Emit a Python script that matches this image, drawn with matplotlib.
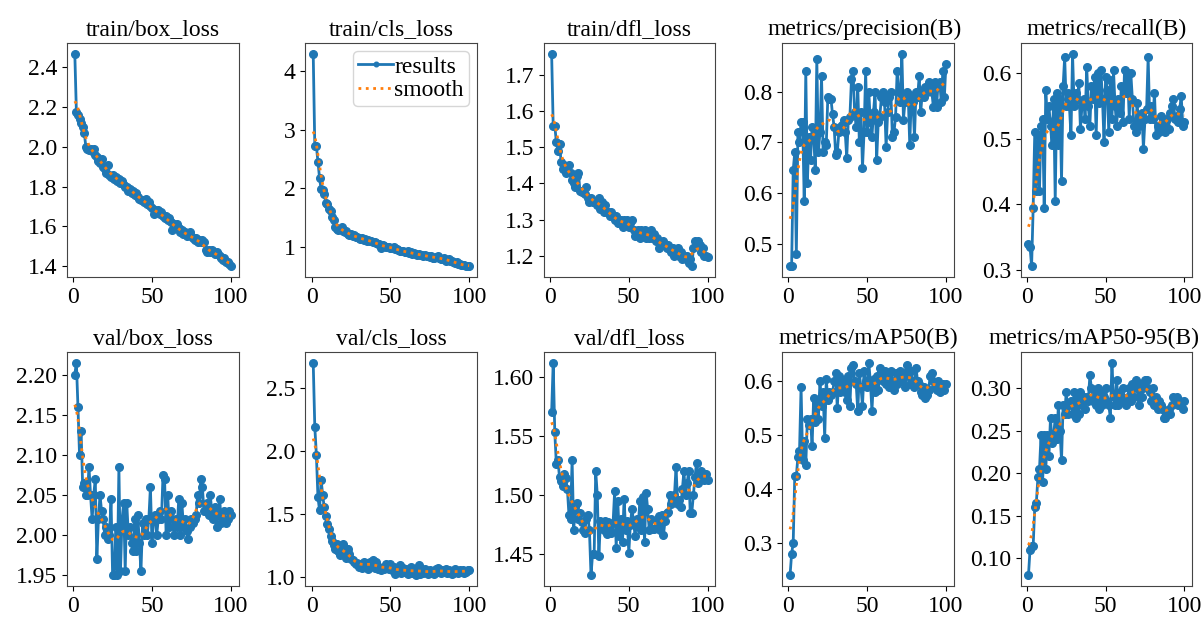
import numpy as np
import matplotlib
matplotlib.use("Agg")
import matplotlib.pyplot as plt
from matplotlib.ticker import MultipleLocator

plt.rcParams['font.family'] = ['Liberation Serif', 'DejaVu Serif']
plt.rcParams['font.size'] = 17

epochs = list(range(1, 101))

titles = ["train/box_loss", "train/cls_loss", "train/dfl_loss", "metrics/precision(B)", "metrics/recall(B)",
          "val/box_loss", "val/cls_loss", "val/dfl_loss", "metrics/mAP50(B)", "metrics/mAP50-95(B)"]

train_box_loss = [2.465, 2.175, 2.16, 2.14, 2.12, 2.10, 2.07, 2.00, 1.99, 1.985,
                  1.99, 1.98, 1.99, 1.96, 1.95, 1.93, 1.92, 1.94, 1.90, 1.89,
                  1.87, 1.91, 1.86, 1.85, 1.86, 1.84, 1.85, 1.83, 1.84, 1.82,
                  1.83, 1.81, 1.80, 1.80, 1.78, 1.79, 1.77, 1.78, 1.76, 1.77,
                  1.75, 1.74, 1.73, 1.73, 1.72, 1.74, 1.71, 1.72, 1.70, 1.69,
                  1.66, 1.68, 1.67, 1.68, 1.66, 1.67, 1.65, 1.64, 1.65, 1.63,
                  1.64, 1.62, 1.58, 1.61, 1.60, 1.61, 1.59, 1.57, 1.58, 1.56,
                  1.57, 1.55, 1.56, 1.57, 1.55, 1.54, 1.53, 1.54, 1.52, 1.53,
                  1.52, 1.53, 1.52, 1.48, 1.47, 1.48, 1.47, 1.48, 1.47, 1.46,
                  1.47, 1.46, 1.45, 1.44, 1.43, 1.44, 1.42, 1.42, 1.41, 1.40]

train_cls_loss = [4.30, 2.72, 2.72, 2.45, 2.18, 1.98, 1.97, 1.90, 1.75, 1.72,
                  1.65, 1.60, 1.50, 1.45, 1.33, 1.30, 1.28, 1.30, 1.33, 1.27,
                  1.25, 1.26, 1.22, 1.20, 1.21, 1.18, 1.19, 1.17, 1.16, 1.15,
                  1.13, 1.14, 1.12, 1.13, 1.10, 1.11, 1.09, 1.10, 1.08, 1.07,
                  1.06, 1.05, 1.04, 0.97, 1.03, 1.01, 1.00, 0.99, 1.00, 0.98,
                  0.97, 0.99, 0.95, 0.96, 0.94, 0.93, 0.92, 0.93, 0.91, 0.90,
                  0.92, 0.89, 0.90, 0.88, 0.89, 0.87, 0.86, 0.88, 0.85, 0.86,
                  0.84, 0.85, 0.83, 0.84, 0.82, 0.83, 0.81, 0.80, 0.82, 0.84,
                  0.80, 0.79, 0.78, 0.80, 0.76, 0.77, 0.78, 0.75, 0.76, 0.74,
                  0.72, 0.73, 0.70, 0.71, 0.69, 0.68, 0.68, 0.67, 0.67, 0.66]

train_dfl_loss = [1.76, 1.56, 1.56, 1.515, 1.49, 1.51, 1.46, 1.44, 1.45, 1.43,
                  1.44, 1.45, 1.43, 1.41, 1.40, 1.39, 1.42, 1.43, 1.38, 1.375,
                  1.38, 1.37, 1.39, 1.36, 1.35, 1.36, 1.35, 1.35, 1.35, 1.34,
                  1.36, 1.33, 1.35, 1.32, 1.34, 1.32, 1.32, 1.31, 1.32, 1.31,
                  1.30, 1.31, 1.29, 1.29, 1.30, 1.28, 1.30, 1.29, 1.30, 1.28,
                  1.29, 1.30, 1.27, 1.255, 1.26, 1.27, 1.25, 1.27, 1.26, 1.27,
                  1.25, 1.26, 1.25, 1.27, 1.25, 1.26, 1.24, 1.25, 1.22, 1.23,
                  1.23, 1.24, 1.23, 1.22, 1.23, 1.22, 1.21, 1.22, 1.20, 1.21,
                  1.22, 1.20, 1.21, 1.19, 1.20, 1.19, 1.20, 1.18, 1.19, 1.17,
                  1.22, 1.24, 1.23, 1.24, 1.23, 1.21, 1.22, 1.20, 1.20, 1.195]

precision = [0.455, 0.455, 0.645, 0.680, 0.480, 0.720, 0.700, 0.740, 0.740, 0.585,
             0.840, 0.620, 0.710, 0.665, 0.730, 0.715, 0.645, 0.865, 0.680, 0.720,
             0.830, 0.680, 0.700, 0.695, 0.790, 0.785, 0.785, 0.755, 0.730, 0.675,
             0.680, 0.720, 0.730, 0.735, 0.745, 0.720, 0.670, 0.745, 0.750, 0.825,
             0.840, 0.760, 0.730, 0.810, 0.700, 0.760, 0.650, 0.720, 0.840, 0.720,
             0.800, 0.740, 0.710, 0.760, 0.800, 0.665, 0.740, 0.750, 0.790, 0.800,
             0.780, 0.690, 0.760, 0.790, 0.800, 0.710, 0.720, 0.750, 0.840, 0.800,
             0.780, 0.875, 0.745, 0.780, 0.800, 0.795, 0.695, 0.790, 0.780, 0.710,
             0.800, 0.790, 0.830, 0.760, 0.800, 0.790, 0.810, 0.800, 0.820, 0.810,
             0.800, 0.770, 0.820, 0.770, 0.815, 0.820, 0.780, 0.840, 0.790, 0.855]

recall = [0.340, 0.335, 0.305, 0.395, 0.510, 0.420, 0.505, 0.420, 0.520, 0.530,
          0.395, 0.575, 0.530, 0.550, 0.520, 0.490, 0.560, 0.405, 0.570, 0.490,
          0.560, 0.435, 0.580, 0.625, 0.550, 0.570, 0.550, 0.505, 0.630, 0.550,
          0.570, 0.560, 0.585, 0.515, 0.550, 0.560, 0.530, 0.610, 0.550, 0.520,
          0.580, 0.560, 0.595, 0.505, 0.600, 0.555, 0.605, 0.560, 0.495, 0.595,
          0.575, 0.510, 0.590, 0.530, 0.605, 0.550, 0.520, 0.560, 0.540, 0.580,
          0.525, 0.605, 0.570, 0.600, 0.530, 0.600, 0.560, 0.520, 0.510, 0.555,
          0.520, 0.530, 0.540, 0.485, 0.530, 0.545, 0.625, 0.530, 0.550, 0.530,
          0.570, 0.505, 0.520, 0.510, 0.535, 0.520, 0.525, 0.510, 0.530, 0.515,
          0.540, 0.550, 0.560, 0.530, 0.535, 0.525, 0.545, 0.565, 0.520, 0.525]

val_box_loss = [2.200, 2.215, 2.160, 2.100, 2.130, 2.060, 2.065, 2.050, 2.050, 2.085,
                2.050, 2.020, 2.050, 2.070, 1.970, 2.020, 2.050, 2.030, 2.020, 2.000,
                2.010, 1.995, 2.000, 2.045, 1.950, 1.950, 2.010, 1.950, 2.085, 1.955,
                2.020, 2.040, 1.955, 2.040, 2.000, 2.010, 1.990, 1.980, 2.020, 1.980,
                2.025, 1.990, 1.955, 2.015, 2.000, 2.020, 2.000, 2.020, 2.060, 1.990,
                2.020, 2.025, 2.000, 2.020, 2.030, 2.020, 2.075, 2.070, 2.000, 2.050,
                2.010, 2.030, 2.020, 2.000, 2.020, 2.010, 2.045, 2.000, 2.040, 2.010,
                2.020, 2.005, 1.995, 2.010, 2.020, 2.015, 2.020, 2.025, 2.050, 2.040,
                2.070, 2.060, 2.030, 2.030, 2.040, 2.025, 2.050, 2.030, 2.020, 2.035,
                2.010, 2.025, 2.045, 2.015, 2.020, 2.030, 2.015, 2.020, 2.030, 2.025]

val_cls_loss = [2.70, 2.19, 1.97, 1.63, 1.53, 1.77, 1.65, 1.55, 1.48, 1.42,
                1.38, 1.32, 1.28, 1.25, 1.22, 1.26, 1.20, 1.17, 1.24, 1.26,
                1.19, 1.15, 1.22, 1.18, 1.14, 1.13, 1.12, 1.10, 1.11, 1.08,
                1.10, 1.07, 1.12, 1.09, 1.11, 1.06, 1.12, 1.10, 1.13, 1.07,
                1.12, 1.06, 1.08, 1.05, 1.07, 1.06, 1.10, 1.08, 1.06, 1.10,
                1.05, 1.08, 1.02, 1.06, 1.04, 1.09, 1.03, 1.07, 1.04, 1.06,
                1.02, 1.05, 1.08, 1.03, 1.06, 1.01, 1.04, 1.09, 1.02, 1.05,
                1.03, 1.06, 1.04, 1.02, 1.05, 1.03, 1.04, 1.02, 1.06, 1.07,
                1.04, 1.03, 1.05, 1.04, 1.06, 1.03, 1.05, 1.04, 1.02, 1.03,
                1.06, 1.04, 1.03, 1.05, 1.04, 1.05, 1.03, 1.04, 1.05, 1.05]

val_dfl_loss = [1.570, 1.612, 1.553, 1.526, 1.530, 1.515, 1.512, 1.508, 1.518, 1.514,
                1.505, 1.483, 1.480, 1.530, 1.470, 1.490, 1.493, 1.480, 1.485, 1.477,
                1.470, 1.468, 1.480, 1.483, 1.470, 1.432, 1.450, 1.450, 1.520, 1.500,
                1.448, 1.478, 1.475, 1.470, 1.478, 1.467, 1.477, 1.470, 1.468, 1.476,
                1.503, 1.455, 1.495, 1.465, 1.480, 1.460, 1.497, 1.470, 1.478, 1.451,
                1.475, 1.488, 1.478, 1.465, 1.480, 1.474, 1.495, 1.470, 1.498, 1.460,
                1.502, 1.488, 1.470, 1.480, 1.471, 1.471, 1.472, 1.478, 1.482, 1.470,
                1.483, 1.466, 1.478, 1.485, 1.486, 1.500, 1.492, 1.498, 1.500, 1.524,
                1.492, 1.496, 1.490, 1.505, 1.520, 1.500, 1.510, 1.520, 1.485, 1.485,
                1.500, 1.515, 1.527, 1.510, 1.518, 1.520, 1.518, 1.513, 1.518, 1.513]

map50 = [0.240, 0.280, 0.300, 0.425, 0.425, 0.460, 0.470, 0.590, 0.455, 0.490,
         0.445, 0.530, 0.520, 0.530, 0.480, 0.570, 0.525, 0.560, 0.530, 0.600,
         0.555, 0.580, 0.495, 0.605, 0.565, 0.580, 0.575, 0.580, 0.600, 0.615,
         0.550, 0.610, 0.580, 0.590, 0.600, 0.580, 0.565, 0.610, 0.555, 0.625,
         0.630, 0.600, 0.595, 0.545, 0.615, 0.590, 0.555, 0.620, 0.600, 0.590,
         0.635, 0.600, 0.545, 0.605, 0.580, 0.610, 0.585, 0.625, 0.620, 0.600,
         0.620, 0.595, 0.615, 0.590, 0.620, 0.600, 0.585, 0.615, 0.595, 0.610,
         0.620, 0.600, 0.615, 0.590, 0.630, 0.610, 0.595, 0.620, 0.600, 0.590,
         0.625, 0.600, 0.595, 0.580, 0.575, 0.590, 0.570, 0.575, 0.585, 0.610,
         0.615, 0.600, 0.590, 0.585, 0.600, 0.580, 0.590, 0.595, 0.585, 0.595]

map50_95 = [0.080, 0.110, 0.115, 0.115, 0.160, 0.165, 0.195, 0.205, 0.245, 0.190,
            0.245, 0.205, 0.245, 0.220, 0.265, 0.235, 0.245, 0.265, 0.240, 0.280,
            0.250, 0.215, 0.280, 0.270, 0.295, 0.270, 0.280, 0.285, 0.270, 0.295,
            0.265, 0.290, 0.270, 0.295, 0.280, 0.290, 0.275, 0.290, 0.285, 0.315,
            0.300, 0.285, 0.295, 0.280, 0.300, 0.275, 0.295, 0.280, 0.290, 0.300,
            0.285, 0.280, 0.265, 0.330, 0.290, 0.280, 0.310, 0.280, 0.295, 0.285,
            0.300, 0.285, 0.280, 0.290, 0.300, 0.285, 0.305, 0.290, 0.310, 0.300,
            0.280, 0.305, 0.290, 0.300, 0.310, 0.310, 0.300, 0.295, 0.285, 0.300,
            0.280, 0.290, 0.275, 0.285, 0.280, 0.275, 0.265, 0.265, 0.270, 0.275,
            0.270, 0.280, 0.290, 0.285, 0.290, 0.280, 0.285, 0.280, 0.275, 0.285]

series = [train_box_loss, train_cls_loss, train_dfl_loss, precision, recall,
          val_box_loss, val_cls_loss, val_dfl_loss, map50, map50_95]

y_steps = [0.2, 1, 0.1, 0.1, 0.1, 0.05, 0.5, 0.05, 0.1, 0.05]
title_x = [0.5, 0.5, 0.5, 0.48, 0.5, 0.5, 0.5, 0.5, 0.5, 0.43]


def gaussian_smooth(y, sigma=3.0, truncate=4.0):
    y = np.asarray(y, dtype=float)
    r = int(truncate * sigma + 0.5)
    k = np.arange(-r, r + 1)
    w = np.exp(-0.5 * (k / sigma) ** 2)
    w /= w.sum()
    yp = np.pad(y, r, mode='symmetric')
    return np.convolve(yp, w, mode='valid')


fig, axes = plt.subplots(2, 5, figsize=(12.03, 6.19), dpi=100)
fig.subplots_adjust(left=0.0557, right=0.991, top=0.9305, bottom=0.0533, wspace=0.39, hspace=0.32)

for ax, title, y, st, tx in zip(axes.ravel(), titles, series, y_steps, title_x):
    ax.plot(epochs, y, marker='o', markersize=5.5, linewidth=2, color='#1f77b4', label='results')
    ax.plot(epochs, gaussian_smooth(y), ':', linewidth=2, color='#ff7f0e', label='smooth')
    ax.set_title(title, fontsize=17, x=tx)
    ax.set_xticks([0, 50, 100])
    ax.yaxis.set_major_locator(MultipleLocator(st))
    ax.tick_params(labelsize=17)
    for s in ax.spines.values():
        s.set_color('#444444')

axes[0, 1].legend(loc='upper right', fontsize=17, handlelength=1.5, handletextpad=0.05,
                  borderpad=0.2, labelspacing=0.1, borderaxespad=0.35, markerscale=0.6)

fig.savefig("out.png", dpi=100)
